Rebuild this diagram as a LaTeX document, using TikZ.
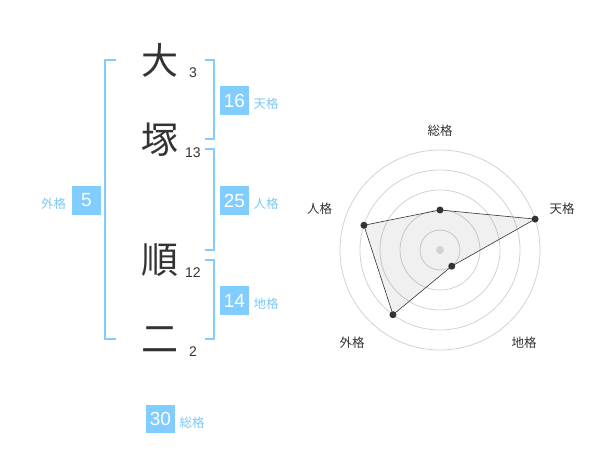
\documentclass[tikz,border=0pt]{standalone}
\usepackage{fontspec}
\setmainfont{Liberation Sans}
\newfontfamily\jpfont{Noto Sans CJK JP}
\definecolor{kakublue}{HTML}{82CDFF}
\definecolor{labelblue}{HTML}{7CC8F6}
\definecolor{inkgray}{HTML}{333333}
\definecolor{ringgray}{HTML}{D2D2D2}

\begin{document}
\begin{tikzpicture}[x=1pt, y=-1pt,
    kanji/.style={inner sep=0pt, text=inkgray, font=\jpfont\fontsize{37}{37}\selectfont},
    strokes/.style={inner sep=0pt, text=inkgray, font=\fontsize{14}{14}\selectfont},
    score/.style={rectangle, fill=kakublue, text=white, minimum width=29pt, minimum height=29pt, inner sep=0pt, font=\fontsize{19}{19}\selectfont},
    kaku/.style={inner sep=0pt, text=labelblue, font=\jpfont\fontsize{12.5}{12.5}\selectfont},
    axislabel/.style={inner sep=0pt, text=inkgray, font=\jpfont\fontsize{12.5}{12.5}\selectfont},
    bracket/.style={draw=kakublue, line width=2pt},
    ring/.style={draw=ringgray, line width=0.8pt},
    dot/.style={circle, fill=inkgray, inner sep=0pt, minimum size=7pt}
]
    \useasboundingbox (0,0) rectangle (600,470);

    % Name characters and strokes
    \node[kanji] (dai) at (160, 60) {大};
    \node[strokes] (s-dai) at (193, 72.5) {3};
    \node[kanji] (tsuka) at (160, 140) {塚};
    \node[strokes] (s-tsuka) at (193, 153) {13};
    \node[kanji] (jun) at (160, 260) {順};
    \node[strokes] (s-jun) at (193, 272.5) {12};
    \node[kanji] (ni) at (160, 340) {二};
    \node[strokes] (s-ni) at (193, 352) {2};

    % Brackets
    \draw[bracket] (116, 60) -- (105, 60) -- (105, 339) -- (116, 339);
    \draw[bracket] (205, 60) -- (214, 60) -- (214, 139) -- (205, 139);
    \draw[bracket] (205, 149.5) -- (214, 149.5) -- (214, 250) -- (205, 250);
    \draw[bracket] (205, 260) -- (214, 260) -- (214, 339) -- (205, 339);

    % Scores
    \node[score] (ten) at (234.5, 100.5) {16};
    \node[kaku] (ten-l) at (266, 104) {天格};
    \node[score] (jin) at (234.5, 200.5) {25};
    \node[kaku] (jin-l) at (266, 204) {人格};
    \node[score] (chi) at (234.5, 300.5) {14};
    \node[kaku] (chi-l) at (266, 304) {地格};
    \node[score] (gai) at (86.5, 200.5) {5};
    \node[kaku] (gai-l) at (53.5, 204) {外格};
    \node[score, minimum height=28pt] (sou) at (160.5, 419) {30};
    \node[kaku] (sou-l) at (192, 423) {総格};

    % Radar chart
    \begin{scope}[shift={(440,250)}, y=1pt]
        \foreach \r in {20,40,60,80,100}
            \draw[ring] (0,0) circle (\r);
        \coordinate (p-sou) at (90:40);
        \coordinate (p-ten) at (18:100);
        \coordinate (p-chi) at (-54:20);
        \coordinate (p-gai) at (234:80);
        \coordinate (p-jin) at (162:80);
        \fill[black, fill opacity=0.06] (p-sou) -- (p-ten) -- (p-chi) -- (p-gai) -- (p-jin) -- cycle;
        \node[circle, fill=ringgray, inner sep=0pt, minimum size=8pt] (hub) at (0,0) {};
        \draw[inkgray, line width=0.6pt] (p-sou) -- (p-ten) -- (p-chi) -- (p-gai) -- (p-jin) -- cycle;
        \foreach \p in {sou,ten,chi,gai,jin}
            \node[dot] (d-\p) at (p-\p) {};
        \node[axislabel] (a-sou) at (0, 119) {総格};
        \node[axislabel] (a-ten) at (122, 41) {天格};
        \node[axislabel] (a-jin) at (-120.5, 41) {人格};
        \node[axislabel] (a-gai) at (-88, -92.5) {外格};
        \node[axislabel] (a-chi) at (84, -92.5) {地格};
    \end{scope}
\end{tikzpicture}
\end{document}
